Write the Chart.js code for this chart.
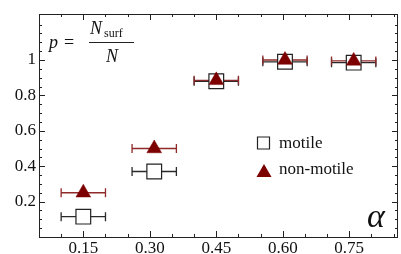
<!DOCTYPE html>
<html>
<head>
<meta charset="utf-8">
<script src="https://cdn.jsdelivr.net/npm/chart.js@4"></script>
<style>
  html, body { margin: 0; padding: 0; background: #fff; }
  #wrap { width: 401px; height: 254px; }
</style>
</head>
<body>
<div id="wrap"><canvas id="chart" width="401" height="254"></canvas></div>
<script>
// ─── Data ──────────────────────────────────────────────
const alphaMotile    = [0.15, 0.31, 0.45, 0.605, 0.76];
const pMotile        = [0.115, 0.37, 0.88, 0.99, 0.985];
const alphaNonMotile = [0.15, 0.31, 0.45, 0.605, 0.76];
const pNonMotile     = [0.25, 0.50, 0.885, 1.0, 0.995];
const alphaErr       = [0.05, 0.05, 0.05, 0.05, 0.05];

const xMajor = [0.15, 0.30, 0.45, 0.60, 0.75];
const yMajor = [0.2, 0.4, 0.6, 0.8, 1];

const SERIF = '"Liberation Serif", "DejaVu Serif", serif';
const RED   = '#7d0000';

// ─── Plugins ───────────────────────────────────────────

const errorBars = {
  id: 'errorBars',
  beforeDatasetsDraw(chart) {
    const { ctx, scales: { x, y } } = chart;
    chart.data.datasets.forEach(ds => {
      ctx.save();
      ctx.strokeStyle = ds.errColor;
      ctx.lineWidth = 1.3;
      ds.data.forEach((pt, i) => {
        const py = y.getPixelForValue(pt.y);
        const x0 = x.getPixelForValue(pt.x - ds.xErr[i]);
        const x1 = x.getPixelForValue(pt.x + ds.xErr[i]);
        ctx.beginPath();
        ctx.moveTo(x0, py); ctx.lineTo(x1, py);
        ctx.moveTo(x0, py - 4.5); ctx.lineTo(x0, py + 4.5);
        ctx.moveTo(x1, py - 4.5); ctx.lineTo(x1, py + 4.5);
        ctx.stroke();
      });
      ctx.restore();
    });
  },
};

const frame = {
  id: 'frame',
  afterDraw(chart) {
    const { ctx, chartArea: a, scales: { x, y } } = chart;
    ctx.save();
    ctx.strokeStyle = '#222';
    ctx.lineWidth = 1;
    ctx.strokeRect(a.left + 0.5, a.top + 0.5, a.right - a.left - 1, a.bottom - a.top);

    ctx.beginPath();
    for (let v = 0.05; v <= 0.851; v += 0.05) {
      const px = Math.round(x.getPixelForValue(v)) + 0.5;
      const major = xMajor.some(m => Math.abs(m - v) < 1e-6);
      const len = major ? 6 : 3;
      ctx.moveTo(px, a.bottom); ctx.lineTo(px, a.bottom - len);
      ctx.moveTo(px, a.top);    ctx.lineTo(px, a.top + len);
    }
    for (let v = 0.05; v <= 1.25; v += 0.05) {
      const py = Math.round(y.getPixelForValue(v)) + 0.5;
      const major = yMajor.some(m => Math.abs(m - v) < 1e-6);
      const len = major ? 6 : 3;
      ctx.moveTo(a.left, py);  ctx.lineTo(a.left + len, py);
      ctx.moveTo(a.right, py); ctx.lineTo(a.right - len, py);
    }
    ctx.stroke();

    // formula p = N_surf / N
    ctx.fillStyle = '#111';
    ctx.textBaseline = 'alphabetic';
    ctx.font = `italic 18px ${SERIF}`;
    ctx.fillText('p', 49, 48);
    ctx.font = `18px ${SERIF}`;
    ctx.fillText('=', 64, 48);
    ctx.font = `italic 18px ${SERIF}`;
    ctx.fillText('N', 90, 34);
    ctx.font = `12px ${SERIF}`;
    ctx.fillText('surf', 104, 37);
    ctx.font = `italic 18px ${SERIF}`;
    ctx.fillText('N', 106, 62);
    ctx.beginPath();
    ctx.moveTo(89, 42.5); ctx.lineTo(134, 42.5);
    ctx.stroke();

    // alpha label
    ctx.font = `italic 34px ${SERIF}`;
    ctx.fillText('α', 367, 227);

    // legend
    ctx.font = `17px ${SERIF}`;
    chart.data.datasets.forEach((ds, i) => {
      const cy = 143 + i * 26;
      ctx.beginPath();
      if (ds.pointStyle === 'rect') {
        ctx.fillStyle = '#fff';
        ctx.strokeStyle = '#222';
        ctx.lineWidth = 1.2;
        ctx.rect(257.5, cy - 6, 12, 12);
        ctx.fill(); ctx.stroke();
      } else {
        ctx.fillStyle = RED;
        ctx.moveTo(264, cy - 5);
        ctx.lineTo(271.5, cy + 8);
        ctx.lineTo(256.5, cy + 8);
        ctx.closePath();
        ctx.fill();
      }
      ctx.fillStyle = '#111';
      ctx.fillText(ds.label, 279, cy + 5);
    });
    ctx.restore();
  },
};

// ─── Chart ─────────────────────────────────────────────

new Chart(document.getElementById('chart'), {
  type: 'scatter',
  data: {
    datasets: [
      {
        label: 'motile',
        data: alphaMotile.map((a, i) => ({ x: a, y: pMotile[i] })),
        xErr: alphaErr,
        errColor: '#2a2a2a',
        pointStyle: 'rect',
        pointRadius: 10.4,
        backgroundColor: '#fff',
        borderColor: '#222',
        borderWidth: 1.2,
        order: 1,
      },
      {
        label: 'non-motile',
        data: alphaNonMotile.map((a, i) => ({ x: a, y: pNonMotile[i] })),
        xErr: alphaErr,
        errColor: '#8e2a2a',
        pointStyle: 'triangle',
        pointRadius: 8.5,
        backgroundColor: RED,
        borderColor: RED,
        borderWidth: 0.5,
        order: 0,
      },
    ],
  },
  options: {
    responsive: false,
    animation: false,
    events: [],
    layout: { autoPadding: false, padding: { top: 14, right: 3, left: 0, bottom: 0 } },
    plugins: { legend: { display: false }, tooltip: { enabled: false } },
    scales: {
      x: {
        min: 0.05, max: 0.86,
        afterBuildTicks: s => { s.ticks = xMajor.map(v => ({ value: v })); },
        afterFit: s => { s.height = 17; s.paddingLeft = 0; s.paddingRight = 0; },
        ticks: {
          color: '#111', font: { family: SERIF, size: 17 }, padding: 1,
          maxRotation: 0, autoSkip: false,
          callback: v => v.toFixed(2),
        },
        grid: { display: false, drawTicks: false },
        border: { display: false },
      },
      y: {
        min: 0, max: 1.26,
        afterBuildTicks: s => { s.ticks = yMajor.map(v => ({ value: v })); },
        afterFit: s => { s.width = 39; s.paddingTop = 0; s.paddingBottom = 0; },
        ticks: {
          color: '#111', font: { family: SERIF, size: 17 }, padding: 3,
          autoSkip: false,
          callback: v => String(v),
        },
        grid: { display: false, drawTicks: false },
        border: { display: false },
      },
    },
  },
  plugins: [errorBars, frame],
});
</script>
</body>
</html>
